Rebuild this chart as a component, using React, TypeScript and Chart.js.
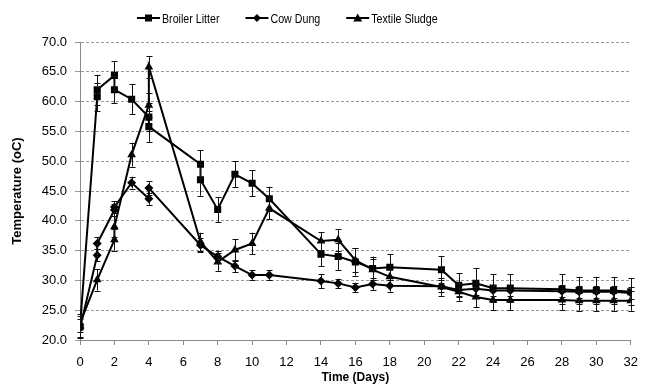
import React, { useEffect, useRef } from 'react';
import { Chart, registerables } from 'chart.js';

Chart.register(...registerables);

// ---- Data ----
const seriesNames = ['Broiler Litter', 'Cow Dung', 'Textile Sludge'];

const broilerX = [0, 1, 1, 2, 2, 3, 4, 4, 7, 7, 8, 9, 10, 11, 14, 15, 16, 17, 18, 21, 22, 23, 24, 25, 28, 29, 30, 31, 32];
const broilerY = [22.2, 60.8, 62.0, 64.4, 62.0, 60.4, 57.4, 55.8, 49.5, 46.9, 41.9, 47.8, 46.3, 43.7, 34.4, 34.0, 33.1, 32.0, 32.2, 31.8, 29.2, 29.5, 28.7, 28.7, 28.5, 28.3, 28.3, 28.3, 28.1];
const broilerErr = [1.8, 2.4, 2.5, 2.4, 2.3, 2.5, 2.3, 2.6, 2.3, 2.7, 2.1, 2.2, 2.2, 2.0, 2.0, 2.3, 2.3, 2.0, 2.2, 2.3, 2.0, 2.5, 2.3, 2.3, 2.5, 2.3, 2.3, 2.3, 2.3];

const cowX = [0, 1, 1, 2, 2, 3, 4, 4, 7, 8, 9, 10, 11, 14, 15, 16, 17, 18, 21, 22, 23, 24, 25, 28, 29, 30, 31, 32];
const cowY = [22.0, 34.2, 36.2, 41.8, 42.3, 46.4, 43.7, 45.5, 35.9, 34.0, 32.4, 30.9, 30.9, 29.9, 29.5, 28.8, 29.4, 29.1, 29.0, 28.4, 28.6, 28.3, 28.3, 28.2, 28.1, 28.1, 28.1, 27.9];
const cowErr = [1.5, 1.0, 1.0, 1.0, 1.0, 1.0, 1.0, 1.2, 1.2, 1.0, 1.0, 0.8, 0.8, 1.2, 0.8, 0.8, 1.0, 1.0, 1.0, 1.0, 1.0, 1.0, 1.0, 1.0, 1.0, 1.0, 1.0, 1.0];

const textileX = [0, 1, 2, 2, 3, 4, 4, 7, 8, 9, 10, 11, 14, 15, 16, 17, 18, 21, 22, 23, 24, 25, 28, 29, 30, 31, 32];
const textileY = [22.8, 30.1, 36.8, 39.0, 51.1, 59.4, 65.8, 36.5, 33.1, 35.1, 36.2, 42.1, 36.6, 36.8, 33.4, 31.8, 30.6, 28.9, 28.1, 27.2, 26.7, 26.7, 26.7, 26.6, 26.6, 26.6, 26.6];
const textileErr = [1.5, 1.8, 1.8, 1.8, 2.0, 2.0, 1.8, 1.5, 1.5, 1.8, 1.8, 1.8, 1.5, 1.8, 2.0, 1.8, 1.5, 1.5, 1.5, 1.7, 1.7, 1.7, 1.7, 1.7, 1.7, 1.7, 1.7];

const xMin = 0, xMax = 32, xStep = 2;
const yMin = 20, yMax = 70, yStep = 5;

const pointStyles = ['rect', 'rectRot', 'triangle'];
const pointRadii = [5, 4.5, 5];

const FONT = "'Liberation Sans', Arial, sans-serif";
const NARROW_SCALE = 0.82;

const toPts = (xs: number[], ys: number[]) => xs.map((x, i) => ({ x, y: ys[i] }));

const errorBarPlugin = {
  id: 'errorBars',
  afterDatasetsDraw(chart: any) {
    const ctx = chart.ctx;
    const yScale = chart.scales.y;
    ctx.save();
    ctx.strokeStyle = '#111';
    ctx.lineWidth = 1;
    chart.data.datasets.forEach((ds: any, di: number) => {
      const meta = chart.getDatasetMeta(di);
      meta.data.forEach((pt: any, i: number) => {
        const e = ds.errors[i];
        const v = ds.data[i].y;
        const x = Math.round(pt.x) + 0.5;
        const yt = yScale.getPixelForValue(v + e);
        const yb = yScale.getPixelForValue(v - e);
        ctx.beginPath();
        ctx.moveTo(x, yt);
        ctx.lineTo(x, yb);
        ctx.moveTo(x - 3, Math.round(yt) + 0.5);
        ctx.lineTo(x + 3, Math.round(yt) + 0.5);
        ctx.moveTo(x - 3, Math.round(yb) + 0.5);
        ctx.lineTo(x + 3, Math.round(yb) + 0.5);
        ctx.stroke();
      });
    });
    ctx.restore();
  },
};

function drawMarker(ctx: CanvasRenderingContext2D, style: string, cx: number, cy: number) {
  ctx.beginPath();
  if (style === 'rect') {
    ctx.rect(cx - 3.5, cy - 3.5, 7, 7);
  } else if (style === 'rectRot') {
    ctx.moveTo(cx, cy - 4);
    ctx.lineTo(cx + 4, cy);
    ctx.lineTo(cx, cy + 4);
    ctx.lineTo(cx - 4, cy);
    ctx.closePath();
  } else {
    ctx.moveTo(cx, cy - 4.5);
    ctx.lineTo(cx + 4.5, cy + 3.5);
    ctx.lineTo(cx - 4.5, cy + 3.5);
    ctx.closePath();
  }
  ctx.fill();
}

const legendPlugin = {
  id: 'customLegend',
  afterDraw(chart: any) {
    const ctx = chart.ctx;
    ctx.save();
    ctx.font = `13px ${FONT}`;
    ctx.textBaseline = 'middle';
    ctx.fillStyle = '#000';
    ctx.strokeStyle = '#000';
    ctx.lineWidth = 2;
    let x = 137;
    const y = 18;
    seriesNames.forEach((name, i) => {
      ctx.beginPath();
      ctx.moveTo(x, y);
      ctx.lineTo(x + 23, y);
      ctx.stroke();
      drawMarker(ctx, pointStyles[i], x + 11.5, y);
      const tx = x + 25;
      ctx.save();
      ctx.translate(tx, y + 1);
      ctx.scale(NARROW_SCALE, 1);
      ctx.fillText(name, 0, 0);
      ctx.restore();
      x = tx + ctx.measureText(name).width * NARROW_SCALE + 26;
    });
    ctx.restore();
  },
};

export default function App() {
  const ref = useRef<HTMLCanvasElement | null>(null);
  useEffect(() => {
    if (!ref.current) return;
    const data = [
      { x: broilerX, y: broilerY, e: broilerErr },
      { x: cowX, y: cowY, e: cowErr },
      { x: textileX, y: textileY, e: textileErr },
    ];
    const chart = new Chart(ref.current, {
      type: 'scatter',
      data: {
        datasets: data.map((d, i) => ({
          label: seriesNames[i],
          data: toPts(d.x, d.y),
          errors: d.e,
          showLine: true,
          borderColor: '#000',
          backgroundColor: '#000',
          borderWidth: 2,
          pointStyle: pointStyles[i],
          pointRadius: pointRadii[i],
          pointBorderWidth: 0,
          pointBackgroundColor: '#000',
          tension: 0,
        })) as any,
      },
      options: {
        animation: false,
        responsive: true,
        maintainAspectRatio: false,
        layout: { padding: { top: 42, right: 9, bottom: 0, left: 0 } },
        plugins: {
          legend: { display: false },
          tooltip: { enabled: false },
        },
        scales: {
          x: {
            type: 'linear',
            min: xMin,
            max: xMax,
            afterFit: (s: any) => { s.height = 49; },
            ticks: { stepSize: xStep, color: '#000', padding: 10, font: { family: FONT, size: 13 }, maxRotation: 0 },
            grid: { display: true, drawOnChartArea: false, drawTicks: true, tickLength: 5, color: '#888' },
            border: { display: true, color: '#888', width: 1 },
            title: { display: true, text: 'Time (Days)', color: '#000', font: { family: FONT, size: 12, weight: 'bold' }, padding: { top: 0, bottom: 4 } },
          },
          y: {
            type: 'linear',
            min: yMin,
            max: yMax,
            afterFit: (s: any) => { s.width = 80; },
            ticks: { stepSize: yStep, color: '#000', padding: 8, font: { family: FONT, size: 13 }, callback: (v: any) => Number(v).toFixed(1) },
            grid: { color: '#999', tickLength: 5, lineWidth: 1 },
            border: { display: true, color: '#888', width: 1, dash: [3, 2] },
            title: { display: true, text: 'Temperature (oC)', color: '#000', font: { family: FONT, size: 13, weight: 'bold' }, padding: { top: 10, bottom: 0 } },
          },
        },
      } as any,
      plugins: [errorBarPlugin, legendPlugin],
    });
    return () => chart.destroy();
  }, []);
  return (
    <div style={{ position: 'fixed', left: 0, top: 0, width: 648, height: 389, background: '#fff' }}>
      <canvas ref={ref} />
    </div>
  );
}
